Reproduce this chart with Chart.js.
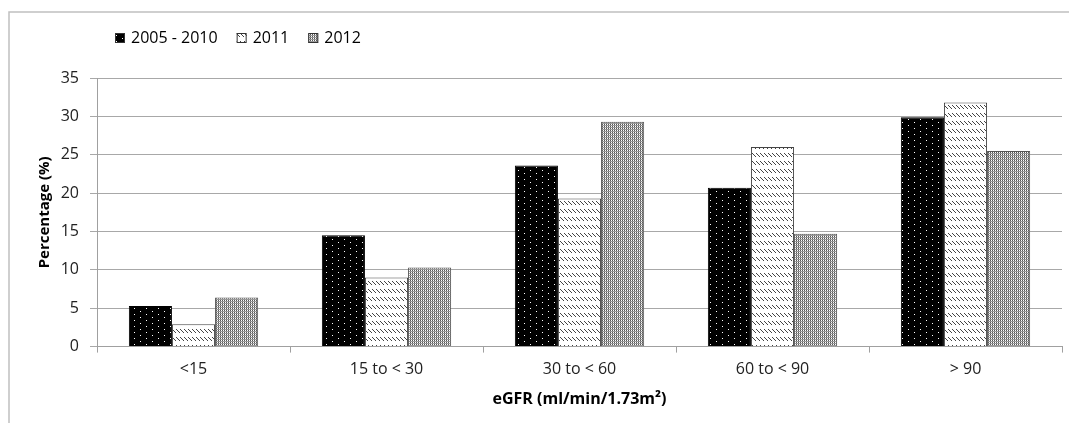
<!DOCTYPE html>
<html>
<head>
<meta charset="utf-8">
<script src="https://cdn.jsdelivr.net/npm/chart.js@4"></script>
<style>
  html, body { margin: 0; padding: 0; background: #fff; }
  #wrap { width: 1069px; height: 423px; position: relative; }
</style>
</head>
<body>
<div id="wrap"><canvas id="egfrChart" width="1069" height="423"></canvas></div>
<script>
// data
const categories = ['<15', '15 to < 30', '30 to < 60', '60 to < 90', '> 90'];
const seriesNames = ['2005 - 2010', '2011', '2012'];
const values2005to2010 = [5.3, 14.5, 23.6, 20.7, 29.9];
const values2011 = [2.9, 9.0, 19.3, 26.0, 31.8];
const values2012 = [6.4, 10.3, 29.3, 14.7, 25.5];
const yTicks = [0, 5, 10, 15, 20, 25, 30, 35];

const font = "'Open Sans', 'DejaVu Sans', sans-serif";

// fill patterns like the old office hatch styles
function makePattern(w, h, draw) {
    const c = document.createElement('canvas');
    c.width = w;
    c.height = h;
    const g = c.getContext('2d');
    draw(g);
    return g.createPattern(c, 'repeat');
}

const dotsOnBlack = makePattern(12, 6, g => {
    g.fillStyle = '#000';
    g.fillRect(0, 0, 12, 6);
    g.fillStyle = '#fff';
    g.fillRect(2, 2, 1, 1);
    g.fillRect(8, 5, 1, 1);
});

const hatchRows = makePattern(4, 8, g => {
    g.fillStyle = '#fff';
    g.fillRect(0, 0, 4, 8);
    g.fillStyle = '#444';
    for (let y = 0; y < 4; y++) {
        g.fillRect(y % 4, y + 1, 1, 1);
    }
});

const fineGrid = makePattern(2, 2, g => {
    g.fillStyle = '#fff';
    g.fillRect(0, 0, 2, 2);
    g.fillStyle = '#555';
    g.fillRect(0, 0, 1, 1);
    g.fillStyle = '#999';
    g.fillRect(1, 1, 1, 1);
    g.fillRect(0, 1, 1, 1);
});

// outer frame + legend drawn on the canvas
const framePlugin = {
    id: 'frame',
    beforeDraw(chart) {
        const ctx = chart.ctx;
        ctx.save();
        ctx.strokeStyle = '#c0c0c0';
        ctx.lineWidth = 1.5;
        ctx.beginPath();
        ctx.moveTo(9, 430);
        ctx.lineTo(9, 12);
        ctx.lineTo(1075, 12);
        ctx.stroke();
        ctx.restore();
    },
    afterDraw(chart) {
        const ctx = chart.ctx;
        ctx.save();
        ctx.font = '16px ' + font;
        ctx.textBaseline = 'middle';
        let x = 115;
        const y = 38;
        chart.data.datasets.forEach(ds => {
            ctx.fillStyle = ds.backgroundColor;
            ctx.fillRect(x, y - 5, 10, 10);
            ctx.strokeStyle = '#333';
            ctx.lineWidth = 1;
            ctx.strokeRect(x + 0.5, y - 4.5, 9, 9);
            ctx.fillStyle = '#000';
            ctx.fillText(ds.label, x + 16, y);
            x += 16 + ctx.measureText(ds.label).width + 19;
        });
        ctx.restore();
    }
};

const ctx = document.getElementById('egfrChart').getContext('2d');
new Chart(ctx, {
    type: 'bar',
    data: {
        labels: categories,
        datasets: [
            {
                label: seriesNames[0],
                data: values2005to2010,
                backgroundColor: dotsOnBlack,
                borderColor: '#000',
                borderWidth: 1
            },
            {
                label: seriesNames[1],
                data: values2011,
                backgroundColor: hatchRows,
                borderColor: '#444',
                borderWidth: 1
            },
            {
                label: seriesNames[2],
                data: values2012,
                backgroundColor: fineGrid,
                borderColor: '#555',
                borderWidth: 1
            }
        ]
    },
    options: {
        responsive: false,
        animation: false,
        layout: {
            padding: { top: 78, right: 7, bottom: 14, left: 22 }
        },
        datasets: {
            bar: {
                barPercentage: 1,
                categoryPercentage: 0.67
            }
        },
        scales: {
            x: {
                offset: true,
                grid: {
                    offset: true,
                    drawOnChartArea: false,
                    drawTicks: true,
                    tickLength: 6,
                    color: '#a0a0a0'
                },
                border: { color: '#a0a0a0' },
                ticks: {
                    color: '#222',
                    font: { family: font, size: 16 },
                    padding: 7
                },
                title: {
                    display: true,
                    text: 'eGFR (ml/min/1.73m²)',
                    color: '#000',
                    font: { family: font, size: 16, weight: 'bold' },
                    padding: { top: 4, bottom: 0 }
                }
            },
            y: {
                min: 0,
                max: 35,
                afterBuildTicks: axis => {
                    axis.ticks = yTicks.map(v => ({ value: v }));
                },
                afterFit: axis => {
                    axis.width = 75;
                },
                grid: {
                    color: '#a8a8a8',
                    tickLength: 7
                },
                border: { color: '#a0a0a0' },
                ticks: {
                    color: '#222',
                    font: { family: font, size: 16 },
                    padding: 11
                },
                title: {
                    display: true,
                    text: 'Percentage (%)',
                    color: '#000',
                    font: { family: font, size: 15, weight: 'bold' },
                    padding: { top: 14, bottom: 0 }
                }
            }
        },
        plugins: {
            legend: { display: false },
            tooltip: { enabled: false }
        }
    },
    plugins: [framePlugin]
});
</script>
</body>
</html>
